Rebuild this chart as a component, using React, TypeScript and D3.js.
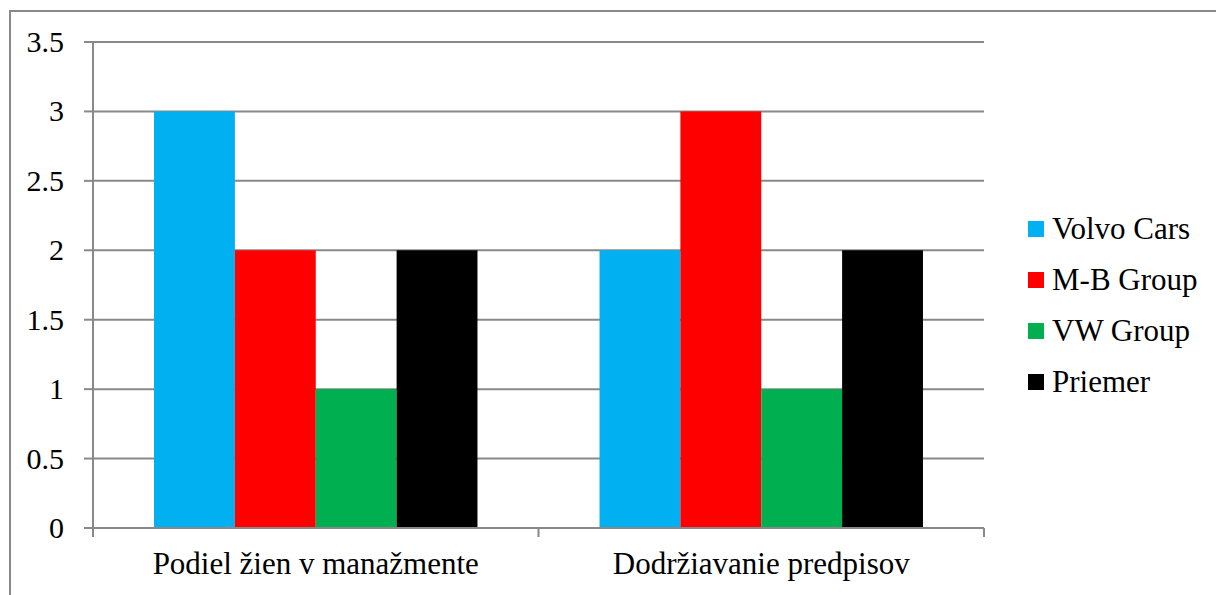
import React from "react";
import * as d3 from "d3";

const categories = ["Podiel žien v manažmente", "Dodržiavanie predpisov"];
const seriesNames = ["Volvo Cars", "M-B Group", "VW Group", "Priemer"];
const seriesColors = ["#00B0F0", "#FF0000", "#00B050", "#000000"];
const volvoCars = [3, 2];
const mbGroup = [2, 3];
const vwGroup = [1, 1];
const priemer = [2, 2];
const yTicks = [0, 0.5, 1, 1.5, 2, 2.5, 3, 3.5];

const seriesValues = [volvoCars, mbGroup, vwGroup, priemer];

const W = 1216;
const H = 595;
const left = 93;
const right = 984;
const top = 42;
const bottom = 528;
const FONT = "Liberation Serif, serif";
const GRID = "#898989";
const textStyle = { fontFamily: FONT };

export default function App() {
  const x0 = d3
    .scaleBand<string>()
    .domain(categories)
    .range([left, right])
    .paddingInner(0.274)
    .paddingOuter(0.137);
  const x1 = d3
    .scaleBand<string>()
    .domain(seriesNames)
    .range([0, x0.bandwidth()])
    .padding(0);
  const y = d3.scaleLinear().domain([0, 3.5]).range([bottom, top]);

  const step = (right - left) / categories.length;
  const catTicks = d3.range(categories.length + 1).map((i) => left + i * step);

  return (
    <svg
      width={W}
      height={H}
      style={{ position: "absolute", left: 0, top: 0, background: "#fff" }}
    >
      <rect x={0} y={0} width={W} height={H} fill="#fff" />
      <rect x={10} y={11} width={W + 20} height={H + 20} fill="none" stroke={GRID} strokeWidth={2} />
      {yTicks.slice(1).map((t) => (
        <line key={"g" + t} x1={left} x2={right} y1={y(t)} y2={y(t)} stroke={GRID} strokeWidth={2} />
      ))}
      {categories.map((c, ci) =>
        seriesNames.map((s, si) => (
          <rect
            key={c + s}
            x={(x0(c) as number) + (x1(s) as number)}
            y={y(seriesValues[si][ci])}
            width={x1.bandwidth()}
            height={bottom - y(seriesValues[si][ci])}
            fill={seriesColors[si]}
          />
        ))
      )}
      <line x1={left} x2={left} y1={top} y2={bottom + 9} stroke={GRID} strokeWidth={2} />
      <line x1={left - 9} x2={right} y1={bottom} y2={bottom} stroke={GRID} strokeWidth={2} />
      {yTicks.map((t) => (
        <g key={"t" + t}>
          <line x1={left - 9} x2={left} y1={y(t)} y2={y(t)} stroke={GRID} strokeWidth={2} />
          <text x={64} y={y(t) + 10} textAnchor="end" fontSize={30} fill="#000" style={textStyle}>
            {String(t)}
          </text>
        </g>
      ))}
      {catTicks.map((cx, i) => (
        <line key={"ct" + i} x1={cx} x2={cx} y1={bottom} y2={bottom + 9} stroke={GRID} strokeWidth={2} />
      ))}
      {categories.map((c) => (
        <text
          key={"cl" + c}
          x={(x0(c) as number) + x0.bandwidth() / 2}
          y={574}
          textAnchor="middle"
          fontSize={31}
          fill="#000"
          style={textStyle}
        >
          {c}
        </text>
      ))}
      {seriesNames.map((s, i) => {
        const cy = 229 + i * 51;
        return (
          <g key={"l" + s}>
            <rect x={1028} y={cy - 8} width={16} height={16} fill={seriesColors[i]} />
            <text x={1052} y={cy + 10} fontSize={31} fill="#000" style={textStyle}>
              {s}
            </text>
          </g>
        );
      })}
    </svg>
  );
}
